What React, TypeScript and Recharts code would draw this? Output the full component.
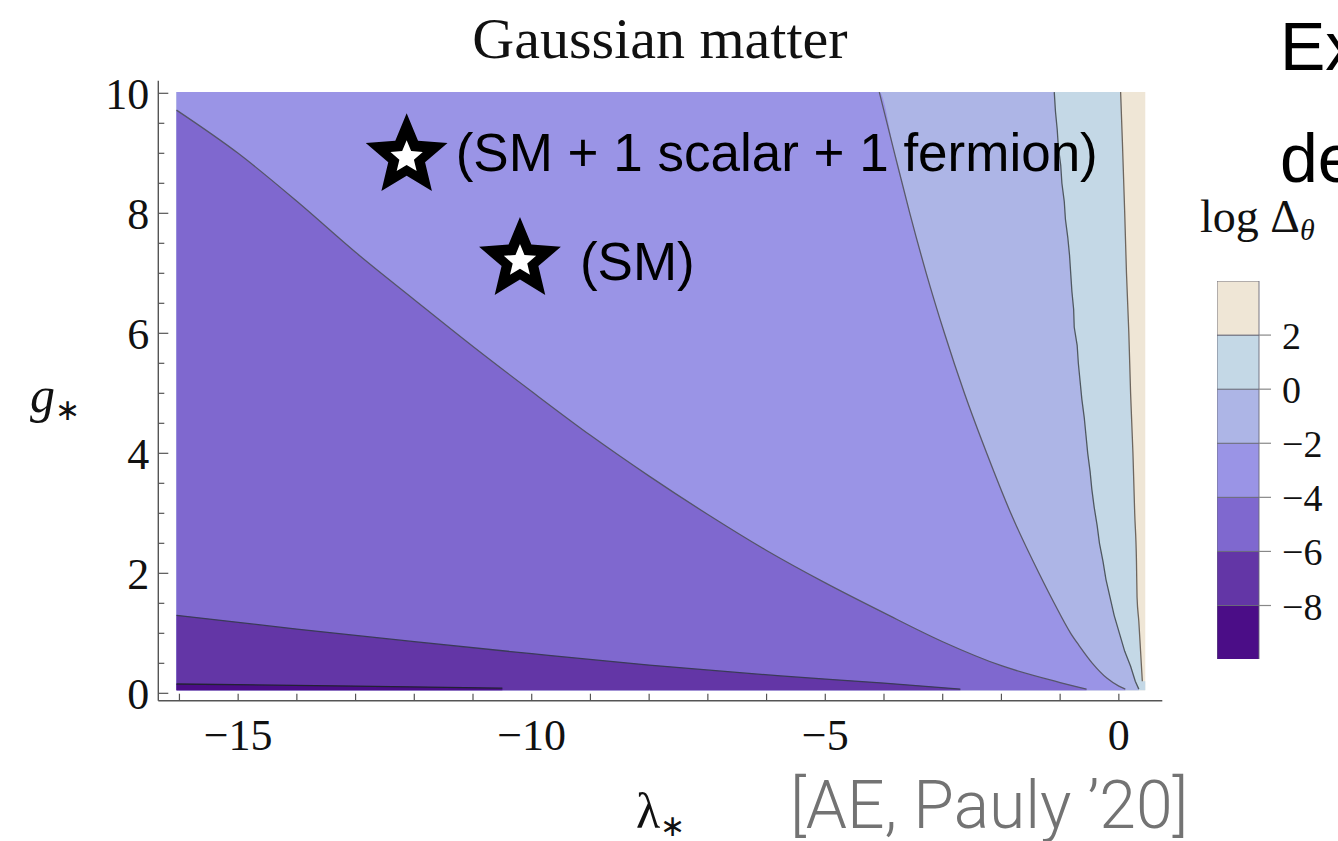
import React from 'react';
import { ComposedChart, Area, Line, Scatter, XAxis, YAxis, BarChart, Bar } from 'recharts';

// ---------- axes ----------
const X_DOMAIN: [number, number] = [-16.36, 0.74];
const Y_DOMAIN: [number, number] = [-0.123, 10.21];
const X_TICKS = [-16, -15, -14, -13, -12, -11, -10, -9, -8, -7, -6, -5, -4, -3, -2, -1, 0];
const X_LABELED = [-15, -10, -5, 0];
const Y_TICKS = [0, 0.5, 1, 1.5, 2, 2.5, 3, 3.5, 4, 4.5, 5, 5.5, 6, 6.5, 7, 7.5, 8, 8.5, 9, 9.5, 10];
const Y_LABELED = [0, 2, 4, 6, 8, 10];

// ---------- data extent ----------
const DATA_LEFT = -16.05;
const DATA_RIGHT = 0.45;
const DATA_TOP = 10.02;
const DATA_BOTTOM = 0.05;

// ---------- contour lines (lambda*, g*) ----------
const contourP2 = [
  { x: 0.03, y: 10.02 }, { x: 0.06, y: 9.2 }, { x: 0.1, y: 8.0 }, { x: 0.13, y: 7.0 },
  { x: 0.17, y: 6.0 }, { x: 0.2, y: 5.0 }, { x: 0.24, y: 4.0 }, { x: 0.27, y: 3.0 },
  { x: 0.3, y: 2.2 }, { x: 0.31, y: 1.6 }, { x: 0.34, y: 1.2 }, { x: 0.37, y: 0.7 }, { x: 0.4, y: 0.2 },
];
const contour0 = [
  { x: -1.1, y: 10.02 }, { x: -1.08, y: 9.7 }, { x: -1.05, y: 9.4 }, { x: -1.03, y: 9.1 },
  { x: -0.99, y: 8.8 }, { x: -0.97, y: 8.5 }, { x: -0.93, y: 8.2 }, { x: -0.91, y: 7.9 },
  { x: -0.87, y: 7.6 }, { x: -0.84, y: 7.3 }, { x: -0.82, y: 7.0 }, { x: -0.8, y: 6.7 },
  { x: -0.77, y: 6.4 }, { x: -0.76, y: 6.1 }, { x: -0.71, y: 5.8 }, { x: -0.69, y: 5.5 },
  { x: -0.66, y: 5.2 }, { x: -0.63, y: 4.9 }, { x: -0.59, y: 4.6 }, { x: -0.56, y: 4.3 },
  { x: -0.53, y: 4.0 }, { x: -0.49, y: 3.7 }, { x: -0.46, y: 3.4 }, { x: -0.42, y: 3.1 },
  { x: -0.37, y: 2.8 }, { x: -0.33, y: 2.5 }, { x: -0.27, y: 2.2 }, { x: -0.22, y: 1.9 },
  { x: -0.15, y: 1.6 }, { x: -0.08, y: 1.3 }, { x: 0.01, y: 1.0 }, { x: 0.1, y: 0.7 },
  { x: 0.2, y: 0.45 }, { x: 0.28, y: 0.2 }, { x: 0.34, y: 0.07 },
];
const contourM2 = [
  { x: -4.08, y: 10.02 }, { x: -3.82, y: 9.0 }, { x: -3.56, y: 8.0 }, { x: -3.28, y: 7.0 },
  { x: -2.97, y: 6.0 }, { x: -2.63, y: 5.0 }, { x: -2.25, y: 4.0 }, { x: -1.84, y: 3.0 },
  { x: -1.36, y: 2.0 }, { x: -1.1, y: 1.5 }, { x: -0.82, y: 1.0 }, { x: -0.68, y: 0.8 },
  { x: -0.45, y: 0.5 }, { x: -0.2, y: 0.25 }, { x: 0.0, y: 0.12 }, { x: 0.11, y: 0.07 },
];
const contourM4 = [
  { x: -16.05, y: 9.72 }, { x: -15, y: 9.0 }, { x: -14, y: 8.2 }, { x: -13, y: 7.35 },
  { x: -12, y: 6.56 }, { x: -11, y: 5.78 }, { x: -10, y: 5.03 }, { x: -9, y: 4.3 },
  { x: -8, y: 3.62 }, { x: -7, y: 2.98 }, { x: -6, y: 2.38 }, { x: -5, y: 1.84 },
  { x: -4, y: 1.34 }, { x: -3, y: 0.86 }, { x: -2, y: 0.46 }, { x: -1, y: 0.18 }, { x: -0.55, y: 0.07 },
];
const contourM6 = [
  { x: -16.05, y: 1.3 }, { x: -14, y: 1.07 }, { x: -12, y: 0.86 }, { x: -10, y: 0.66 },
  { x: -8, y: 0.47 }, { x: -5.76, y: 0.29 }, { x: -4, y: 0.17 }, { x: -2.7, y: 0.07 },
];
const contourM8 = [
  { x: -16.05, y: 0.155 }, { x: -13, y: 0.12 }, { x: -10.5, y: 0.085 },
];

// ---------- colour bands ----------
const LEVELS = [-8, -6, -4, -2, 0, 2];
const BAND_COLORS = ['#4b0d87', '#6336a6', '#7f68cf', '#9a94e6', '#adb5e6', '#c4d8e6', '#efe6d6'];
const BAND_LOW = -10;
const BAND_STEP = 2;

// ---------- markers ----------
const starsBig = [{ x: -12.13, y: 8.95, label: '(SM + 1 scalar + 1 fermion)' }];
const starsSM = [{ x: -10.2, y: 7.22, label: '(SM)' }];

// ---------- derived tables ----------
const fillBeige = [{ x: DATA_LEFT, y: DATA_TOP }, { x: DATA_RIGHT, y: DATA_TOP }];
const fillP2 = [{ x: DATA_LEFT, y: DATA_TOP }, ...contourP2, { x: DATA_RIGHT, y: contourP2[contourP2.length - 1].y }];
const fill0 = [{ x: DATA_LEFT, y: DATA_TOP }, ...contour0];
const fillM2 = [{ x: DATA_LEFT, y: DATA_TOP }, ...contourM2];
const fillM4 = contourM4;
const fillM6 = contourM6;
const fillM8 = contourM8;

const barRow: Record<string, any> = { name: 'bar', base: BAND_LOW };
BAND_COLORS.forEach((_, i) => { barRow['b' + i] = BAND_STEP; });
const barData = [barRow];

const SERIF = "'Liberation Serif', 'Times New Roman', serif";
const SANS = "'Liberation Sans', Arial, sans-serif";
const TINY = 0.001;

const fmt = (v: number) => (v < 0 ? '\u2212' + Math.abs(v) : String(v));

const BottomTick = (p: any) => {
  const { x, y, payload } = p;
  const lab = X_LABELED.includes(payload.value);
  return (
    <g>
      <line x1={x} y1={y} x2={x} y2={y - 7} stroke="#555" strokeWidth={1.2} />
      {lab && (
        <text x={x} y={y + 49} textAnchor="middle" fontFamily={SERIF} fontSize={44} fill="#111">
          {fmt(payload.value)}
        </text>
      )}
    </g>
  );
};
const TopTick = (p: any) => {
  const { x, y } = p;
  return <line x1={x} y1={y} x2={x} y2={y + 7} stroke="#555" strokeWidth={1.2} />;
};
const LeftTick = (p: any) => {
  const { x, y, payload } = p;
  const lab = Y_LABELED.includes(payload.value);
  return (
    <g>
      <line x1={x} y1={y} x2={x + (lab ? 10 : 6)} y2={y} stroke="#555" strokeWidth={1.2} />
      {lab && (
        <text x={x - 9} y={y + 16} textAnchor="end" fontFamily={SERIF} fontSize={44} fill="#111">
          {fmt(payload.value)}
        </text>
      )}
    </g>
  );
};
const RightTick = (p: any) => {
  const { x, y, payload } = p;
  const lab = Y_LABELED.includes(payload.value);
  return <line x1={x} y1={y} x2={x - (lab ? 10 : 6)} y2={y} stroke="#555" strokeWidth={1.2} />;
};
const BarTick = (p: any) => {
  const { x, y, payload } = p;
  return (
    <g>
      <line x1={x} y1={y} x2={x + 12} y2={y} stroke="#888" strokeWidth={1.2} />
      <text x={x + 23} y={y + 14} textAnchor="start" fontFamily={SERIF} fontSize={38} fill="#111">
        {fmt(payload.value)}
      </text>
    </g>
  );
};

const starPoints = (cx: number, cy: number, R: number, ratio: number) => {
  const pts: string[] = [];
  for (let i = 0; i < 10; i++) {
    const a = ((-90 + i * 36) * Math.PI) / 180;
    const r = i % 2 === 0 ? R : R * ratio;
    pts.push(`${cx + r * Math.cos(a)},${cy + r * Math.sin(a)}`);
  }
  return pts.join(' ');
};
const makeStar = (dx: number, dy: number) => (props: any) => {
  const { cx, cy, payload } = props;
  return (
    <g>
      <polygon points={starPoints(cx, cy, 43, 0.45)} fill="#000" />
      <polygon points={starPoints(cx, cy + 1, 17, 0.45)} fill="#fff" />
      <text x={cx + dx} y={cy + dy} fontFamily={SANS} fontSize={53} fill="#000">
        {payload.label}
      </text>
    </g>
  );
};
const StarBig = makeStar(49, 15);
const StarSM = makeStar(60, 20);

const areaProps = {
  xAxisId: 'b',
  yAxisId: 'l',
  dataKey: 'y',
  baseValue: DATA_BOTTOM,
  stroke: 'none',
  fillOpacity: 1,
  isAnimationActive: false,
  dot: false,
  activeDot: false,
};
const lineProps = {
  xAxisId: 'b',
  yAxisId: 'l',
  dataKey: 'y',
  dot: false,
  activeDot: false,
  isAnimationActive: false,
  strokeWidth: 1.3,
};

const axisLine = { stroke: '#555', strokeWidth: 1.4 };

export default function App() {
  return (
    <div style={{ position: 'absolute', left: 0, top: 0, width: 1338, height: 841, background: '#fff', overflow: 'hidden' }}>
      <div style={{ position: 'absolute', left: 0, top: 0 }}>
        <ComposedChart
          width={1338}
          height={841}
          margin={{ top: 80.7, right: 175.7, bottom: 80.3, left: 98.3 }}
        >
          <XAxis
            xAxisId="b"
            dataKey="x"
            type="number"
            domain={X_DOMAIN}
            allowDataOverflow
            ticks={X_TICKS}
            interval={0}
            tickSize={TINY}
            tickMargin={TINY}
            tickLine={false}
            height={60}
            axisLine={axisLine}
            tick={<BottomTick />}
          />
          <XAxis
            xAxisId="t"
            dataKey="x"
            type="number"
            orientation="top"
            domain={X_DOMAIN}
            allowDataOverflow
            ticks={X_TICKS}
            interval={0}
            tickSize={TINY}
            tickMargin={TINY}
            tickLine={false}
            height={0}
            axisLine={axisLine}
            tick={<TopTick />}
          />
          <YAxis
            yAxisId="l"
            dataKey="y"
            type="number"
            domain={Y_DOMAIN}
            allowDataOverflow
            ticks={Y_TICKS}
            interval={0}
            tickSize={TINY}
            tickMargin={TINY}
            tickLine={false}
            width={60}
            axisLine={axisLine}
            tick={<LeftTick />}
          />
          <YAxis
            yAxisId="r"
            dataKey="y"
            type="number"
            orientation="right"
            domain={Y_DOMAIN}
            allowDataOverflow
            ticks={Y_TICKS}
            interval={0}
            tickSize={TINY}
            tickMargin={TINY}
            tickLine={false}
            width={0}
            axisLine={axisLine}
            tick={<RightTick />}
          />

          <Area {...areaProps} type="linear" data={fillBeige} fill={BAND_COLORS[6]} />
          <Area {...areaProps} type="monotoneX" data={fillP2} fill={BAND_COLORS[5]} />
          <Area {...areaProps} type="linear" data={fill0} fill={BAND_COLORS[4]} />
          <Area {...areaProps} type="monotoneX" data={fillM2} fill={BAND_COLORS[3]} />
          <Area {...areaProps} type="monotoneX" data={fillM4} fill={BAND_COLORS[2]} />
          <Area {...areaProps} type="monotoneX" data={fillM6} fill={BAND_COLORS[1]} />
          <Area {...areaProps} type="monotoneX" data={fillM8} fill={BAND_COLORS[0]} />

          <Line {...lineProps} type="monotoneX" data={contourP2} stroke="#6e665e" />
          <Line {...lineProps} type="linear" data={contour0} stroke="#4f5860" />
          <Line {...lineProps} type="monotoneX" data={contourM2} stroke="#5a5a6a" />
          <Line {...lineProps} type="monotoneX" data={contourM4} stroke="#55556a" />
          <Line {...lineProps} type="monotoneX" data={contourM6} stroke="#3a3a58" />
          <Line {...lineProps} type="monotoneX" data={contourM8} stroke="#222233" />

          <Scatter xAxisId="b" yAxisId="l" data={starsBig} dataKey="y" shape={StarBig} isAnimationActive={false} />
          <Scatter xAxisId="b" yAxisId="l" data={starsSM} dataKey="y" shape={StarSM} isAnimationActive={false} />
        </ComposedChart>
      </div>

      <div style={{ position: 'absolute', left: 1217, top: 280.7 }}>
        <BarChart width={163} height={378.6} data={barData} margin={{ top: 0, right: 0, bottom: 0, left: 0 }} barCategoryGap={0} barGap={0}>
          <XAxis dataKey="name" type="category" hide />
          <YAxis
            type="number"
            orientation="right"
            domain={[BAND_LOW, BAND_LOW + BAND_STEP * BAND_COLORS.length]}
            ticks={LEVELS}
            interval={0}
            tickSize={TINY}
            tickMargin={TINY}
            tickLine={false}
            axisLine={false}
            width={121}
            tick={<BarTick />}
          />
          <Bar dataKey="base" stackId="s" fill="none" isAnimationActive={false} />
          {BAND_COLORS.map((c, i) => (
            <Bar key={i} dataKey={'b' + i} stackId="s" fill={c} stroke="#6a6a78" strokeWidth={0.9} isAnimationActive={false} />
          ))}
        </BarChart>
      </div>

      <svg width={1338} height={841} style={{ position: 'absolute', left: 0, top: 0, pointerEvents: 'none' }}>
        <text x={660} y={58} textAnchor="middle" fontFamily={SERIF} fontSize={58} fill="#111">Gaussian matter</text>
        <text x={30} y={412} fontFamily={SERIF} fontSize={50} fontStyle="italic" fill="#111">
          g<tspan fontSize={30} fontStyle="normal" dy={8}>{'\u2217'}</tspan>
        </text>
        <text x={636} y={828} fontFamily={SERIF} fontSize={50} fill="#111">
          λ<tspan fontSize={30} dy={8}>{'\u2217'}</tspan>
        </text>
        <text x={790} y={828} fontFamily="Roboto, 'Liberation Sans', sans-serif" fontWeight={300} fontSize={66} fill="#737373">
          [AE, Pauly ’20]
        </text>
        <text x={1280} y={70} fontFamily={SANS} fontSize={68} fill="#000">Ex</text>
        <text x={1280} y={182} fontFamily={SANS} fontSize={68} fill="#000">de</text>
        <text x={1200} y={232} fontFamily={SERIF} fontSize={46} fill="#111">
          log Δ<tspan fontStyle="italic" fontSize={30} dy={8}>θ</tspan>
        </text>
      </svg>
    </div>
  );
}
